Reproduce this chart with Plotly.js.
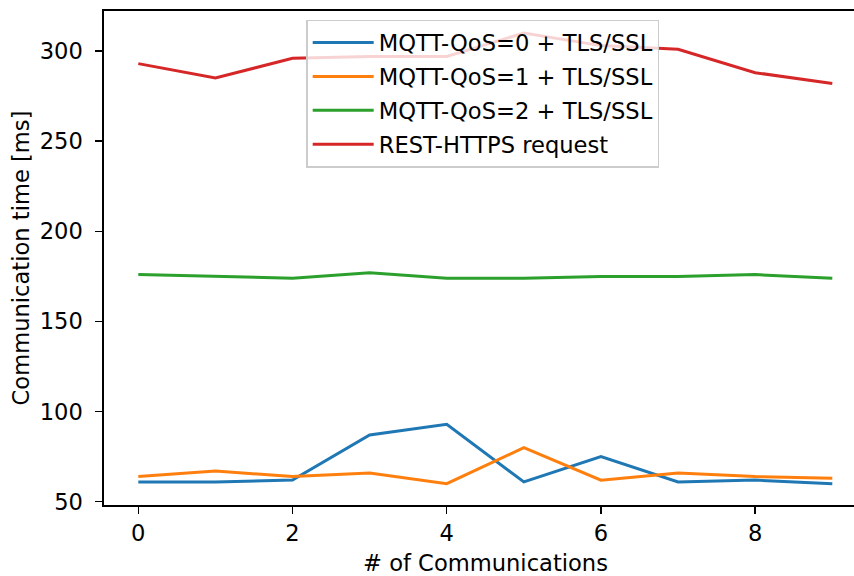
<!DOCTYPE html>
<html>
<head>
<meta charset="utf-8">
<script src="https://cdn.plot.ly/plotly-3.0.1.min.js"></script>
<style>html,body{margin:0;padding:0;background:#fff;overflow:hidden;width:854px;height:576px;}</style>
</head>
<body>
<div id="chart" style="width:868px;height:576px;"></div>
<script>
const xValues = [0, 1, 2, 3, 4, 5, 6, 7, 8, 9];
const seriesNames = ["MQTT-QoS=0 + TLS/SSL", "MQTT-QoS=1 + TLS/SSL", "MQTT-QoS=2 + TLS/SSL", "REST-HTTPS request"];
const qos0 = [61, 61, 62, 87, 93, 61, 75, 61, 62, 60];
const qos1 = [64, 67, 64, 66, 60, 80, 62, 66, 64, 63];
const qos2 = [176, 175, 174, 177, 174, 174, 175, 175, 176, 174];
const rest = [293, 285, 296, 297, 297, 310, 303, 301, 288, 282];
const colors = ["#1f77b4", "#ff7f0e", "#2ca02c", "#d62728"];
const xTicks = [0, 2, 4, 6, 8];
const yTicks = [50, 100, 150, 200, 250, 300];

const allSeries = [qos0, qos1, qos2, rest];
const traces = allSeries.map((ys, i) => ({
  x: xValues, y: ys, type: "scatter", mode: "lines",
  name: seriesNames[i], line: {color: colors[i], width: 3},
  legendgroup: "g" + i
}));

const font = {family: "DejaVu Sans", size: 22.6, color: "#000"};
const layout = {
  width: 868, height: 576,
  margin: {l: 104, r: 1, t: 11, b: 71},
  paper_bgcolor: "#fff", plot_bgcolor: "#fff",
  font: font,
  showlegend: true,
  legend: {
    x: 0.265, y: 0.982, xanchor: "left", yanchor: "top",
    bgcolor: "rgba(255,255,255,0.8)", bordercolor: "#cccccc", borderwidth: 1.5,
    font: font, itemwidth: 61,
    traceorder: "grouped", tracegroupgap: 1.5
  },
  xaxis: {
    range: [-0.445, 9.45], tickvals: xTicks, ticktext: xTicks.map(String),
    showgrid: false, zeroline: false, showline: true, mirror: true,
    linecolor: "#000", linewidth: 1.6, ticks: "outside", ticklen: 7, tickwidth: 1.4,
    tickcolor: "#000", tickfont: font,
    title: {text: "# of Communications", font: font, standoff: 13}
  },
  yaxis: {
    range: [48.2, 322.2], tickvals: yTicks, ticktext: yTicks.map(String),
    showgrid: false, zeroline: false, showline: true, mirror: true,
    linecolor: "#000", linewidth: 1.6, ticks: "outside", ticklen: 7, tickwidth: 1.4,
    tickcolor: "#000", tickfont: font, ticklabelstandoff: 8,
    title: {text: "Communication time [ms]", font: font, standoff: 4}
  }
};
Plotly.newPlot("chart", traces, layout, {displayModeBar: false, staticPlot: true});
</script>
</body>
</html>
